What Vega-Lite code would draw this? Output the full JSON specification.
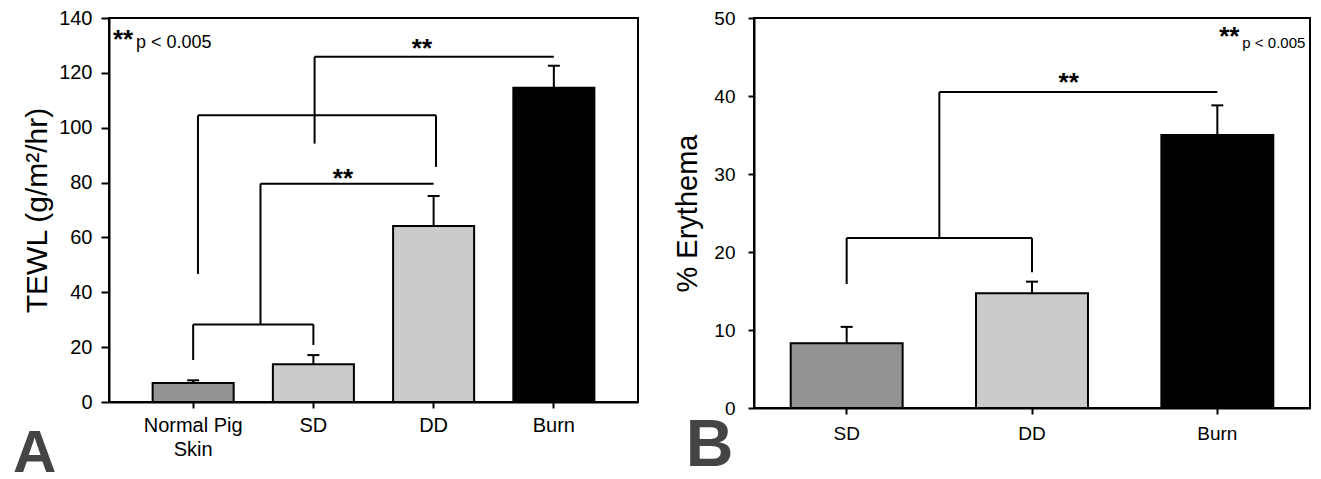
{
  "$schema": "https://vega.github.io/schema/vega-lite/v6.json",
  "padding": {"left": 12, "top": 7, "right": 5, "bottom": 0},
  "spacing": 33,
  "background": "white",
  "resolve": {"scale": {"color": "independent"}},
  "datasets": {
    "tewl": [
      {"group": "Normal Pig Skin", "mean": 6.9, "upper": 7.9},
      {"group": "SD", "mean": 13.8, "upper": 17.1},
      {"group": "DD", "mean": 64.2, "upper": 75.1},
      {"group": "Burn", "mean": 114.6, "upper": 122.6}
    ],
    "tewlBrackets": [
      {"x": 0, "x2": 0, "y": 15.3, "y2": 28.3},
      {"x": 1, "x2": 1, "y": 20.8, "y2": 28.3},
      {"x": 0, "x2": 1, "y": 28.3, "y2": 28.3},
      {"x": 0.56, "x2": 0.56, "y": 28.3, "y2": 79.6},
      {"x": 0.56, "x2": 2, "y": 79.6, "y2": 79.6},
      {"x": 0.04, "x2": 0.04, "y": 46.7, "y2": 104.5},
      {"x": 0.04, "x2": 2.02, "y": 104.5, "y2": 104.5},
      {"x": 2.02, "x2": 2.02, "y": 85.7, "y2": 104.5},
      {"x": 1.01, "x2": 1.01, "y": 94.2, "y2": 125.9},
      {"x": 1.01, "x2": 3.0, "y": 125.9, "y2": 125.9}
    ],
    "erythema": [
      {"group": "SD", "mean": 8.3, "upper": 10.4},
      {"group": "DD", "mean": 14.7, "upper": 16.2},
      {"group": "Burn", "mean": 35.0, "upper": 38.8}
    ],
    "erythemaBrackets": [
      {"x": 0, "x2": 0, "y": 15.9, "y2": 21.8},
      {"x": 1, "x2": 1, "y": 17.4, "y2": 21.8},
      {"x": 0, "x2": 1, "y": 21.8, "y2": 21.8},
      {"x": 0.5, "x2": 0.5, "y": 21.8, "y2": 40.5},
      {"x": 0.5, "x2": 2, "y": 40.5, "y2": 40.5}
    ]
  },
  "hconcat": [
    {
      "width": 529,
      "height": 384,
      "layer": [
        {
          "data": {"name": "tewl"},
          "encoding": {
            "x": {
              "field": "group", "type": "nominal", "sort": null,
              "scale": {"paddingInner": 0.326, "paddingOuter": 0.363},
              "axis": {"title": null, "labelAngle": 0, "labelFontSize": 20, "labelPadding": 7, "tickSize": 6,
                       "labelLineHeight": 24,
                       "labelExpr": "datum.value == 'Normal Pig Skin' ? ['Normal Pig', 'Skin'] : datum.label"}
            }
          },
          "layer": [
            {
              "mark": {"type": "rule", "strokeWidth": 2, "color": "black"},
              "encoding": {
                "y": {"field": "mean", "type": "quantitative", "scale": {"domain": [0, 140], "nice": false},
                      "axis": {"title": "TEWL (g/m²/hr)", "titleFontSize": 30, "labelFontSize": 20, "tickSize": 8,
                               "labelPadding": 9, "titlePadding": 6, "values": [0, 20, 40, 60, 80, 100, 120, 140]}},
                "y2": {"field": "upper"}
              }
            },
            {
              "mark": {"type": "tick", "orient": "horizontal", "size": 12, "thickness": 2, "color": "black", "opacity": 1},
              "encoding": {"y": {"field": "upper", "type": "quantitative"}}
            },
            {
              "mark": {"type": "bar", "stroke": "black", "strokeWidth": 2, "opacity": 1},
              "encoding": {
                "y": {"field": "mean", "type": "quantitative"},
                "color": {"field": "group", "type": "nominal",
                          "scale": {"domain": ["Normal Pig Skin", "SD", "DD", "Burn"], "range": ["#939393", "#cbcbcb", "#cbcbcb", "#000000"]},
                          "legend": null}
              }
            }
          ]
        },
        {
          "data": {"name": "tewlBrackets"},
          "mark": {"type": "rule", "strokeWidth": 2, "color": "black"},
          "encoding": {
            "x": {"field": "x", "type": "quantitative", "scale": {"domain": [-0.7, 3.7], "nice": false, "zero": false}, "axis": null},
            "x2": {"field": "x2"},
            "y": {"field": "y", "type": "quantitative"},
            "y2": {"field": "y2"}
          }
        },
        {
          "data": {"values": [{"label": "**"}]},
          "mark": {"type": "text", "fontSize": 26, "fontWeight": "bold", "align": "center", "baseline": "alphabetic", "color": "black"},
          "encoding": {
            "text": {"field": "label"},
            "x": {"datum": 1.246, "type": "quantitative", "scale": {"domain": [-0.7, 3.7], "nice": false, "zero": false}, "axis": null},
            "y": {"datum": 78.3, "type": "quantitative"}
          }
        },
        {
          "data": {"values": [{"label": "**"}]},
          "mark": {"type": "text", "fontSize": 26, "fontWeight": "bold", "align": "center", "baseline": "alphabetic", "color": "black"},
          "encoding": {
            "text": {"field": "label"},
            "x": {"datum": 1.903, "type": "quantitative", "scale": {"domain": [-0.7, 3.7], "nice": false, "zero": false}, "axis": null},
            "y": {"datum": 125.6, "type": "quantitative"}
          }
        },
        {
          "data": {"values": [{"label": "**"}]},
          "mark": {"type": "text", "fontSize": 26, "fontWeight": "bold", "align": "left", "baseline": "alphabetic", "color": "black"},
          "encoding": {
            "text": {"field": "label"},
            "x": {"datum": -0.667, "type": "quantitative", "scale": {"domain": [-0.7, 3.7], "nice": false, "zero": false}, "axis": null},
            "y": {"datum": 129.1, "type": "quantitative"}
          }
        },
        {
          "data": {"values": [{"label": "p < 0.005"}]},
          "mark": {"type": "text", "fontSize": 18, "align": "left", "baseline": "alphabetic", "color": "black"},
          "encoding": {
            "text": {"field": "label"},
            "x": {"datum": -0.475, "type": "quantitative", "scale": {"domain": [-0.7, 3.7], "nice": false, "zero": false}, "axis": null},
            "y": {"datum": 128.95, "type": "quantitative"}
          }
        },
        {
          "data": {"values": [{"label": "A"}]},
          "mark": {"type": "text", "fontSize": 60, "fontWeight": "bold", "align": "left", "baseline": "alphabetic", "color": "#444444"},
          "encoding": {
            "text": {"field": "label"},
            "x": {"datum": -1.498, "type": "quantitative", "scale": {"domain": [-0.7, 3.7], "nice": false, "zero": false}, "axis": null},
            "y": {"datum": -25.5, "type": "quantitative"}
          }
        }
      ],
      "resolve": {"scale": {"x": "independent"}}
    },
    {
      "width": 556,
      "height": 390,
      "layer": [
        {
          "data": {"name": "erythema"},
          "encoding": {
            "x": {
              "field": "group", "type": "nominal", "sort": null,
              "scale": {"paddingInner": 0.396, "paddingOuter": 0.198},
              "axis": {"title": null, "labelAngle": 0, "labelFontSize": 19, "labelPadding": 10, "tickSize": 6}
            }
          },
          "layer": [
            {
              "mark": {"type": "rule", "strokeWidth": 2, "color": "black"},
              "encoding": {
                "y": {"field": "mean", "type": "quantitative", "scale": {"domain": [0, 50], "nice": false},
                      "axis": {"title": "% Erythema", "titleFontSize": 29, "labelFontSize": 19, "tickSize": 6,
                               "labelPadding": 13, "titlePadding": 11, "values": [0, 10, 20, 30, 40, 50]}},
                "y2": {"field": "upper"}
              }
            },
            {
              "mark": {"type": "tick", "orient": "horizontal", "size": 12, "thickness": 2, "color": "black", "opacity": 1},
              "encoding": {"y": {"field": "upper", "type": "quantitative"}}
            },
            {
              "mark": {"type": "bar", "stroke": "black", "strokeWidth": 2, "opacity": 1},
              "encoding": {
                "y": {"field": "mean", "type": "quantitative"},
                "color": {"field": "group", "type": "nominal",
                          "scale": {"domain": ["SD", "DD", "Burn"], "range": ["#939393", "#cbcbcb", "#000000"]},
                          "legend": null}
              }
            }
          ]
        },
        {
          "data": {"name": "erythemaBrackets"},
          "mark": {"type": "rule", "strokeWidth": 2, "color": "black"},
          "encoding": {
            "x": {"field": "x", "type": "quantitative", "scale": {"domain": [-0.5, 2.5], "nice": false, "zero": false}, "axis": null},
            "x2": {"field": "x2"},
            "y": {"field": "y", "type": "quantitative"},
            "y2": {"field": "y2"}
          }
        },
        {
          "data": {"values": [{"label": "**"}]},
          "mark": {"type": "text", "fontSize": 26, "fontWeight": "bold", "align": "center", "baseline": "alphabetic", "color": "black"},
          "encoding": {
            "text": {"field": "label"},
            "x": {"datum": 1.198, "type": "quantitative", "scale": {"domain": [-0.5, 2.5], "nice": false, "zero": false}, "axis": null},
            "y": {"datum": 40.6, "type": "quantitative"}
          }
        },
        {
          "data": {"values": [{"label": "**"}]},
          "mark": {"type": "text", "fontSize": 26, "fontWeight": "bold", "align": "left", "baseline": "alphabetic", "color": "black"},
          "encoding": {
            "text": {"field": "label"},
            "x": {"datum": 2.01, "type": "quantitative", "scale": {"domain": [-0.5, 2.5], "nice": false, "zero": false}, "axis": null},
            "y": {"datum": 46.6, "type": "quantitative"}
          }
        },
        {
          "data": {"values": [{"label": "p < 0.005"}]},
          "mark": {"type": "text", "fontSize": 15, "align": "left", "baseline": "alphabetic", "color": "black"},
          "encoding": {
            "text": {"field": "label"},
            "x": {"datum": 2.135, "type": "quantitative", "scale": {"domain": [-0.5, 2.5], "nice": false, "zero": false}, "axis": null},
            "y": {"datum": 46.1, "type": "quantitative"}
          }
        },
        {
          "data": {"values": [{"label": "B"}]},
          "mark": {"type": "text", "fontSize": 66, "fontWeight": "bold", "align": "left", "baseline": "alphabetic", "color": "#444444"},
          "encoding": {
            "text": {"field": "label"},
            "x": {"datum": -0.868, "type": "quantitative", "scale": {"domain": [-0.5, 2.5], "nice": false, "zero": false}, "axis": null},
            "y": {"datum": -7.45, "type": "quantitative"}
          }
        }
      ],
      "resolve": {"scale": {"x": "independent"}}
    }
  ],
  "config": {
    "font": "Liberation Sans",
    "view": {"stroke": "black", "strokeWidth": 2},
    "axis": {"domainColor": "black", "domainWidth": 2, "tickColor": "black", "tickWidth": 2,
             "labelColor": "black", "titleColor": "black", "grid": false,
             "labelFont": "Liberation Sans", "titleFont": "Liberation Sans", "titleFontWeight": "normal"},
    "text": {"font": "Liberation Sans"}
  }
}
